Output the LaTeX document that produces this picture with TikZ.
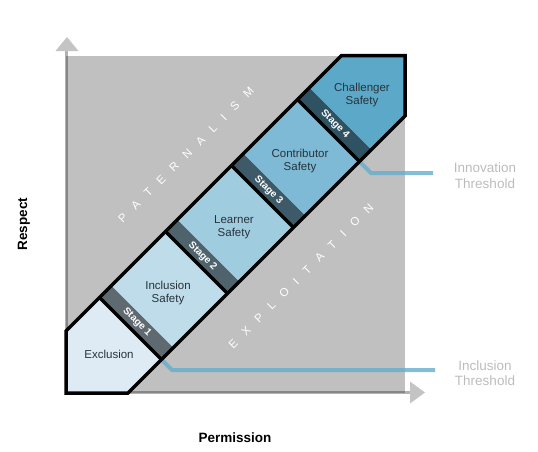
\documentclass[tikz,border=0pt]{standalone}
\usepackage{fontspec}
\setmainfont{Liberation Sans}
\definecolor{sqGray}{RGB}{192,192,192}
\definecolor{axGray}{RGB}{196,196,196}
\definecolor{cExcl}{RGB}{222,235,245}
\definecolor{cIncl}{RGB}{190,220,234}
\definecolor{cLrn}{RGB}{160,204,224}
\definecolor{cCtb}{RGB}{126,186,213}
\definecolor{cChl}{RGB}{92,168,201}
\definecolor{cSa}{RGB}{94,106,112}
\definecolor{cSb}{RGB}{78,99,108}
\definecolor{cSc}{RGB}{62,90,104}
\definecolor{cSd}{RGB}{46,82,98}
\definecolor{secText}{RGB}{40,50,58}
\definecolor{thrText}{RGB}{188,188,188}
\definecolor{thrBlue}{RGB}{100,172,204}
\newcommand\bandpart[3]{\fill[#3] ({(300+#1)/2},{(300-#1)/2}) -- ({(300+#2)/2},{(300-#2)/2}) -- ({(620+#2)/2},{(620-#2)/2}) -- ({(620+#1)/2},{(620-#1)/2}) -- cycle;}
\newcommand\trk{\hspace{10.5pt}}
\begin{document}
\begin{tikzpicture}[x=1pt,y=-1pt,
  sec/.style={font=\fontsize{11.5}{13.5}\selectfont, text=secText, align=center},
  stg/.style={font=\bfseries\fontsize{10}{12}\selectfont, text=white, rotate=-45},
  wm/.style={font=\fontsize{11.5}{13}\selectfont, text=white, rotate=45},
  axlab/.style={font=\bfseries\fontsize{13.5}{16}\selectfont, text=black},
  thr/.style={font=\fontsize{13.5}{15.6}\selectfont, text=thrText, align=center},
  thrline/.style={draw=thrBlue, line width=4pt, draw opacity=0.8},
  outline/.style={draw=black, line width=3.5pt, line join=miter},
  axstem/.style={draw=black, draw opacity=0.3, line width=3pt},
  axhead/.style={fill=axGray}
]
\useasboundingbox (0,0) rectangle (538,451);
% gray field
\fill[sqGray] (66,55.5) rectangle (405,393);
% axes
\coordinate (origin) at (66.5,392.5);
\coordinate (ytip) at (66.5,51);
\coordinate (xtip) at (410,392.5);
\draw[axstem] (ytip) -- (origin) -- (xtip);
\fill[axhead] (67,37) -- (55.5,51) -- (78.5,51) -- cycle;
\fill[axhead] (425,392.5) -- (410,381.5) -- (410,403.5) -- cycle;
% dividers coordinates
\foreach \d [count=\i] in {-198,-66,66,198} {
  \coordinate (d\i u) at ({(397+\d)/2},{(397-\d)/2});
  \coordinate (d\i l) at ({(521+\d)/2},{(521-\d)/2});
}
% threshold lines
\coordinate (inclCorner) at (172,370);
\coordinate (inclEnd) at (435,370);
\coordinate (innoCorner) at (371,173);
\coordinate (innoEnd) at (433,173);
\draw[thrline] (d1l) -- (inclCorner) -- (inclEnd);
\draw[thrline] (d4l) -- (innoCorner) -- (innoEnd);
% band
\coordinate (bTL) at (66,331);
\coordinate (bT) at (341.5,55.5);
\coordinate (bTR) at (405,55.5);
\coordinate (bR) at (405,116);
\coordinate (bB) at (128,393);
\coordinate (bBL) at (66,393);
\begin{scope}
\clip (bTL) -- (bT) -- (bTR) -- (bR) -- (bB) -- (bBL) -- cycle;
\bandpart{-500}{-198}{cExcl}
\bandpart{-198}{-174}{cSa}
\bandpart{-174}{-66}{cIncl}
\bandpart{-66}{-42}{cSb}
\bandpart{-42}{66}{cLrn}
\bandpart{66}{90}{cSc}
\bandpart{90}{198}{cCtb}
\bandpart{198}{222}{cSd}
\bandpart{222}{600}{cChl}
\end{scope}
\foreach \i in {1,2,3,4} { \draw[outline] (d\i u) -- (d\i l); }
\draw[outline] (bTL) -- (bT) -- (bTR) -- (bR) -- (bB) -- (bBL) -- cycle;
% section labels
\node[sec] (excl) at (109,354) {Exclusion};
\node[sec] (incl) at (168,293) {Inclusion\\Safety};
\node[sec] (lrn) at (234,227) {Learner\\Safety};
\node[sec] (ctb) at (300,161) {Contributor\\Safety};
\node[sec] (chl) at (362,95) {Challenger\\Safety};
% stage labels
\node[stg] (s1) at (137,322) {Stage 1};
\node[stg] (s2) at (202.5,256.5) {Stage 2};
\node[stg] (s3) at (268.5,190.5) {Stage 3};
\node[stg] (s4) at (335,124) {Stage 4};
% watermarks
\node[wm] (pat) at (186,155) {P\trk A\trk T\trk E\trk R\trk N\trk A\trk L\trk I\trk S\trk M};
\node[wm] (exp) at (301,276) {E\trk X\trk P\trk L\trk O\trk I\trk T\trk A\trk T\trk I\trk O\trk N};
% thresholds text
\node[thr] (innov) at (485,175.5) {Innovation\\Threshold};
\node[thr] (incth) at (485,373) {Inclusion\\Threshold};
% axis labels
\node[axlab, rotate=90] (resp) at (24,224) {Respect};
\node[axlab] (perm) at (235,438) {Permission};
\end{tikzpicture}
\end{document}
